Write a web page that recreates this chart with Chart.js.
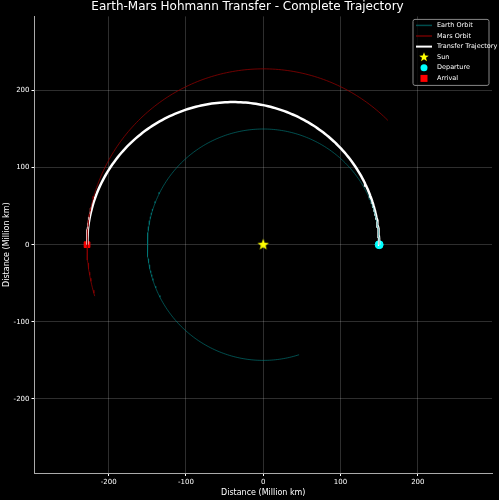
<!DOCTYPE html>
<html><head><meta charset="utf-8">
<script src="https://cdn.jsdelivr.net/npm/chart.js@4"></script>
<style>html,body{margin:0;padding:0;background:#000}#w{width:499px;height:500px}</style>
</head><body><div id="w"><canvas id="c"></canvas></div>
<script>
// orbit parameters (million km, degrees)
const earthRadius = 150;
const marsRadius = 228;
const earthArcDeg = [0, 288];
const marsArcDeg = [45, 197];
const transferArcDeg = [0, 180];
const sunPoint = [0, 0];
const departurePoint = [150, 0];
const arrivalPoint = [-228, 0];
const axisTicks = [-200, -100, 0, 100, 200];
const legendLabels = ['Earth Orbit', 'Mars Orbit', 'Transfer Trajectory', 'Sun', 'Departure', 'Arrival'];

function arc(r, a0, a1) {
  const pts = [];
  for (let a = a0; a <= a1; a += 1) {
    const t = a * Math.PI / 180;
    pts.push({x: r * Math.cos(t), y: r * Math.sin(t)});
  }
  return pts;
}
function transfer(rp, ra, a0, a1) {
  const a = (rp + ra) / 2, e = (ra - rp) / (ra + rp), pts = [];
  for (let d = a0; d <= a1; d += 1) {
    const t = d * Math.PI / 180;
    const r = a * (1 - e * e) / (1 + e * Math.cos(t));
    pts.push({x: r * Math.cos(t), y: r * Math.sin(t)});
  }
  return pts;
}
function starPath(ctx, cx, cy, R) {
  ctx.beginPath();
  for (let i = 0; i < 10; i++) {
    const r = i % 2 ? R * 0.42 : R, t = -Math.PI / 2 + i * Math.PI / 5;
    ctx.lineTo(cx + r * Math.cos(t), cy + r * Math.sin(t));
  }
  ctx.closePath();
}
function starImg(R) {
  const c = document.createElement('canvas'); c.width = c.height = 2 * R + 2;
  const x = c.getContext('2d'); starPath(x, R + 1, R + 1, R); x.fillStyle = '#ffff00'; x.fill();
  return c;
}
const line = (label, data, color, w) => ({label, data, showLine: true, borderColor: color, backgroundColor: color, borderWidth: w, pointRadius: 0, tension: 0});
const legendPlugin = {
  id: 'lg',
  afterDraw(ch) {
    const ctx = ch.ctx, a = ch.chartArea, ds = ch.data.datasets;
    const w = 76, h = 66, x0 = a.right - w - 3, y0 = a.top + 3;
    ctx.save();
    ctx.fillStyle = 'rgba(0,0,0,0.8)'; ctx.strokeStyle = '#888'; ctx.lineWidth = 1;
    ctx.beginPath(); ctx.roundRect(x0, y0, w, h, 2); ctx.fill(); ctx.stroke();
    ctx.font = '6.5px "DejaVu Sans"'; ctx.textBaseline = 'middle'; ctx.fillStyle = '#fff';
    legendLabels.forEach((t, i) => {
      const y = y0 + 6 + i * 10.6, cx = x0 + 11, d = ds[i];
      if (i < 3) { ctx.strokeStyle = i === 2 ? '#fff' : d.borderColor; ctx.lineWidth = i === 2 ? 2 : 1.5; ctx.beginPath(); ctx.moveTo(x0 + 3, y); ctx.lineTo(x0 + 19, y); ctx.stroke(); }
      else if (i === 3) { starPath(ctx, cx, y, 5); ctx.fillStyle = '#ffff00'; ctx.fill(); }
      else if (i === 4) { ctx.beginPath(); ctx.arc(cx, y, 3.5, 0, 2 * Math.PI); ctx.fillStyle = '#00ffff'; ctx.fill(); }
      else { ctx.fillStyle = '#ff0000'; ctx.fillRect(cx - 3.5, y - 3.5, 7, 7); }
      ctx.fillStyle = '#fff'; ctx.fillText(t, x0 + 24, y);
    });
    ctx.restore();
  }
};
const scaleOpts = () => ({type: 'linear', min: -296, max: 296, afterBuildTicks: ax => { ax.ticks = axisTicks.map(v => ({value: v})); },
  grid: {color: 'rgba(255,255,255,0.18)', tickColor: '#fff', tickLength: 3}, border: {color: '#aaa'},
  ticks: {color: '#fff', font: {size: 7, family: 'DejaVu Sans'}, padding: 2},
  title: {display: true, text: 'Distance (Million km)', color: '#fff', font: {size: 8, family: 'DejaVu Sans'}, padding: 0}});
new Chart(document.getElementById('c'), {
  type: 'scatter',
  data: {datasets: [
    line('Earth Orbit', arc(earthRadius, ...earthArcDeg), 'rgba(0,128,128,0.6)', 1),
    line('Mars Orbit', arc(marsRadius, ...marsArcDeg), 'rgba(139,0,0,0.8)', 1),
    line('Transfer Trajectory', transfer(earthRadius, marsRadius, ...transferArcDeg), '#ffffff', 2.5),
    {label: 'Sun', data: [{x: sunPoint[0], y: sunPoint[1]}], pointStyle: starImg(6), pointRadius: 6},
    {label: 'Departure', data: [{x: departurePoint[0], y: departurePoint[1]}], pointStyle: 'circle', pointRadius: 4, borderColor: '#00ffff', backgroundColor: '#00ffff'},
    {label: 'Arrival', data: [{x: arrivalPoint[0], y: arrivalPoint[1]}], pointStyle: 'rect', pointRadius: 4, borderColor: '#ff0000', backgroundColor: '#ff0000'}
  ]},
  options: {
    responsive: true, maintainAspectRatio: false, animation: false,
    layout: {padding: {right: 6, bottom: 2, left: 2}},
    plugins: {
      title: {display: true, text: 'Earth-Mars Hohmann Transfer - Complete Trajectory', color: '#fff', font: {size: 12, weight: 'normal', family: 'DejaVu Sans'}, padding: {top: 0, bottom: 2}},
      legend: {display: false},
      tooltip: {enabled: false}
    },
    scales: {x: scaleOpts(), y: scaleOpts()}
  },
  plugins: [legendPlugin]
});
</script></body></html>
